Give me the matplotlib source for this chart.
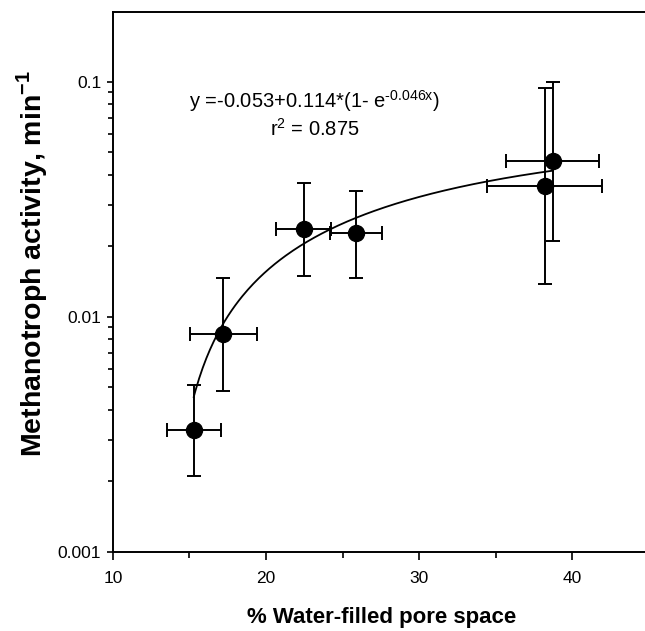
import matplotlib
matplotlib.use('Agg')
import matplotlib.pyplot as plt
import numpy as np

plt.rcParams['font.family'] = ['Liberation Sans', 'DejaVu Sans']
plt.rcParams['mathtext.fontset'] = 'custom'
plt.rcParams['mathtext.rm'] = 'Liberation Sans'
plt.rcParams['mathtext.bf'] = 'Liberation Sans:bold'

###  DATA  ###

wfps = [15.28, 17.2, 22.45, 25.9, 38.72, 38.2]
wfps_err = [1.75, 2.18, 1.77, 1.69, 3.05, 3.77]
activity = [0.0033, 0.0084, 0.0235, 0.0226, 0.0461, 0.0361]
act_lo = [0.00209, 0.00484, 0.01494, 0.01456, 0.0209, 0.01377]
act_hi = [0.00512, 0.01457, 0.0370, 0.0343, 0.0999, 0.0938]

# fitted curve parameters (from the equation on the chart)
y0, a, b = -0.053, 0.114, 0.046

activity = np.array(activity)
yerr = [activity - np.array(act_lo), np.array(act_hi) - activity]

###  PLOT  ###

fig = plt.figure(figsize=(6.45, 6.31), dpi=100)
ax = fig.add_axes([0.175, 0.1257, 0.831, 0.8546])

xf = np.linspace(min(wfps), max(wfps), 200)
ax.plot(xf, y0 + a * (1 - np.exp(-b * xf)), 'k-', lw=1.3, zorder=2)

ax.errorbar(wfps, activity, xerr=wfps_err, yerr=yerr, fmt='o', color='k',
            ms=11.5, ecolor='k', elinewidth=1.4, capsize=4.7, capthick=1.4, zorder=3)

ax.set_yscale('log')
ax.set_ylim(0.001, 0.197)
ax.set_xlim(10, 45)
ax.set_xticks([10, 20, 30, 40])
ax.set_xticks([15, 25, 35], minor=True)
ax.set_yticks([0.001, 0.01, 0.1])
ax.set_yticklabels(['0.001', '0.01', '0.1'])

ax.spines['right'].set_visible(False)
for s in ['left', 'bottom', 'top']:
    ax.spines[s].set_linewidth(1.4)

ax.tick_params(axis='x', which='major', length=5.8, width=1.2, labelsize=12.5, pad=8)
ax.tick_params(axis='x', which='minor', length=4, width=1.2)
ax.tick_params(axis='y', which='major', length=4.3, width=1.2, labelsize=12.5, pad=4)
ax.tick_params(axis='y', which='minor', length=3.6, width=1.2, labelleft=False)

fig.text(381.7/645, 1 - 618/631, '% Water-filled pore space', fontsize=16,
         fontweight='bold', ha='center', va='center')
fig.text(32/645, 1 - 263/631, r'Methanotroph activity, min$^{\mathbf{-1}}$', fontsize=20.5,
         fontweight='bold', rotation=90, ha='center', va='center')

ax.text(0.377, 0.835, r'y =-0.053+0.114*(1- e$^{\text{-0.046x}}$)', transform=ax.transAxes,
        fontsize=14.5, ha='center', va='center')
ax.text(0.377, 0.785, r'r$^{\text{2}}$ = 0.875', transform=ax.transAxes,
        fontsize=14.5, ha='center', va='center')

fig.savefig('out.png', dpi=100)
